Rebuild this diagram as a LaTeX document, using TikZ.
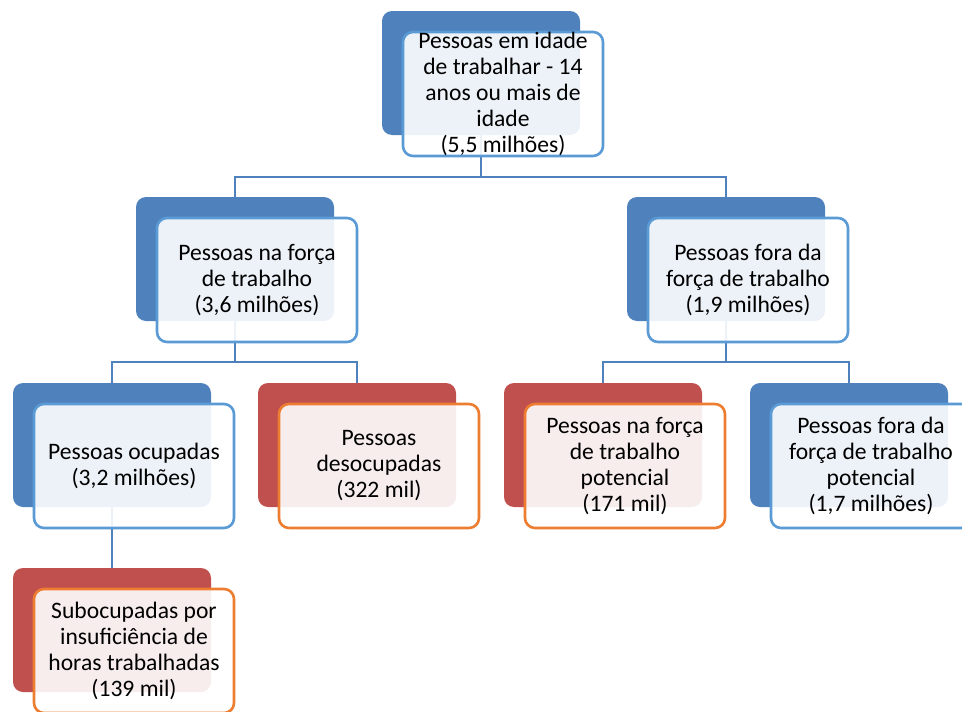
\documentclass[tikz,border=0pt]{standalone}
\usepackage{fontspec}
\setmainfont{Carlito}
\definecolor{bblue}{HTML}{4F81BD}
\definecolor{bred}{HTML}{C0504D}
\definecolor{fblue}{HTML}{5B9BD5}
\definecolor{forange}{HTML}{ED7D31}
\tikzset{
  back/.style={rounded corners=10pt, minimum width=198pt, minimum height=124pt, inner sep=0pt, outer sep=0pt},
  backblue/.style={back, fill=bblue},
  backred/.style={back, fill=bred},
  front/.style={rounded corners=10pt, minimum width=200pt, minimum height=124pt, line width=2.6pt,
    fill=white, fill opacity=0.9, text opacity=1, align=center, inner sep=0pt,
    font=\fontsize{23.6}{26}\selectfont},
  frontblue/.style={front, draw=fblue},
  frontorange/.style={front, draw=forange},
  conn/.style={draw=bblue, line width=2.5pt}
}
\begin{document}
\begin{tikzpicture}[x=1pt,y=-1pt]
\useasboundingbox (0,0) rectangle (962,712);
% back boxes
\node[backblue] (b0) at (481,73) {};
\node[backblue] (b1) at (235,259) {};
\node[backblue] (b2) at (726,259) {};
\node[backblue] (b3) at (112,445) {};
\node[backred]  (b4) at (357,445) {};
\node[backred]  (b5) at (603,445) {};
\node[backblue] (b6) at (849,445) {};
\node[backred]  (b7) at (112,630) {};
% connectors
\draw[conn] (b0.south) -- ++(0,42) -| (b1.north);
\draw[conn] (b0.south) -- ++(0,42) -| (b2.north);
\draw[conn] (b1.south) -- ++(0,41) -| (b3.north);
\draw[conn] (b1.south) -- ++(0,41) -| (b4.north);
\draw[conn] (b2.south) -- ++(0,41) -| (b5.north);
\draw[conn] (b2.south) -- ++(0,41) -| (b6.north);
\draw[conn] (b3.south) -- (b7.north);
% front boxes
\node[frontblue] (f0) at (503,94) {Pessoas em idade\\de trabalhar - 14\\anos ou mais de\\idade\\(5,5 milhões)};
\node[frontblue] (f1) at (257,280) {Pessoas na força\\de trabalho\\(3,6 milhões)};
\node[frontblue] (f2) at (748,280) {Pessoas fora da\\força de trabalho\\(1,9 milhões)};
\node[frontblue] (f3) at (134,466) {Pessoas ocupadas\\(3,2 milhões)};
\node[frontorange] (f4) at (379,466) {Pessoas\\desocupadas\\(322 mil)};
\node[frontorange] (f5) at (625,466) {Pessoas na força\\de trabalho\\potencial\\(171 mil)};
\node[frontblue] (f6) at (871,466) {Pessoas fora da\\força de trabalho\\potencial\\(1,7 milhões)};
\node[frontorange] (f7) at (134,651) {Subocupadas por\\insuficiência de\\horas trabalhadas\\(139 mil)};
\end{tikzpicture}
\end{document}
